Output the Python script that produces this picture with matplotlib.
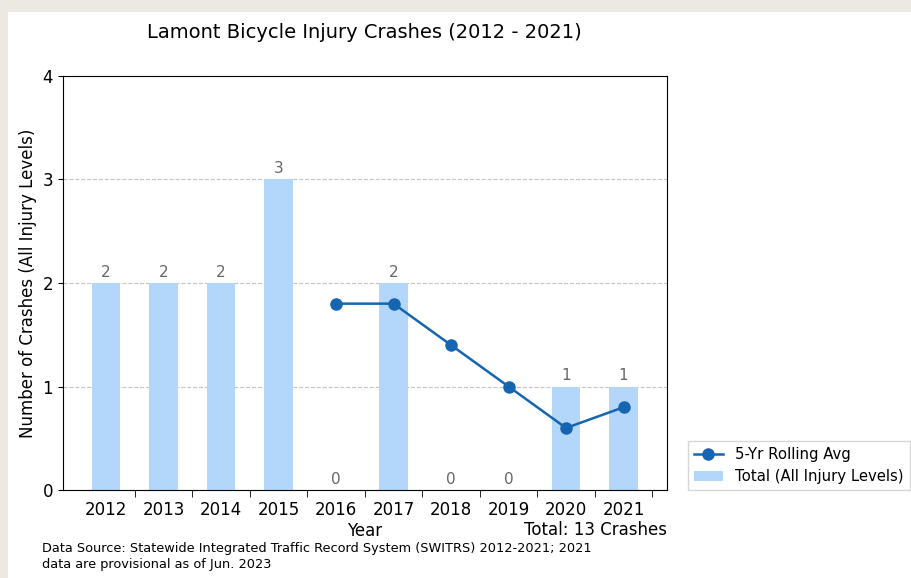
import matplotlib.pyplot as plt
from matplotlib.patches import Rectangle
import numpy as np

years = ['2012', '2013', '2014', '2015', '2016', '2017', '2018', '2019', '2020', '2021']
totals = [2, 2, 2, 3, 0, 2, 0, 0, 1, 1]
avg_years = ['2016', '2017', '2018', '2019', '2020', '2021']
rolling_avg = [1.8, 1.8, 1.4, 1.0, 0.6, 0.8]
total_crashes = 13

bar_color = '#b3d7fb'
line_color = '#1565b0'

fig = plt.figure(figsize=(9.12, 5.78), dpi=100, facecolor='#ece9e3')
fig.patches.append(Rectangle((0.009, 0.0), 0.991, 0.979, transform=fig.transFigure,
                             facecolor='white', edgecolor='none', zorder=-10))
ax = fig.add_axes([0.069, 0.152, 0.662, 0.717])

x = np.arange(len(years))
ax.bar(x, totals, width=0.5, color=bar_color, label='Total (All Injury Levels)', zorder=2)
ax_idx = [years.index(y) for y in avg_years]
ax.plot(ax_idx, rolling_avg, color=line_color, marker='o', markersize=8, linewidth=1.8,
        label='5-Yr Rolling Avg', zorder=3)

for xi, v in zip(x, totals):
    ax.text(xi, v + 0.03, str(v), ha='center', va='bottom', fontsize=11, color='#666666')

ax.set_xlim(-0.75, 9.75)
ax.set_ylim(0, 4)
ax.set_yticks([0, 1, 2, 3, 4])
ax.set_xticks(x)
ax.set_xticklabels(years)
ax.set_xticks(list(x + 0.5), minor=True)
ax.tick_params(axis='x', which='major', length=0, labelsize=12, pad=8)
ax.tick_params(axis='x', which='minor', length=5)
ax.tick_params(axis='y', labelsize=12)
ax.grid(axis='y', linestyle='--', color='#c4c4c4', linewidth=0.8, zorder=0)
ax.set_axisbelow(True)

ax.set_title('Lamont Bicycle Injury Crashes (2012 - 2021)', fontsize=14, pad=27)
ax.set_xlabel('Year', fontsize=12, labelpad=2)
ax.set_ylabel('Number of Crashes (All Injury Levels)', fontsize=12)
ax.text(1.0, -0.097, f'Total: {total_crashes} Crashes', transform=ax.transAxes,
        ha='right', va='center', fontsize=12)
fig.text(0.046, 0.063, 'Data Source: Statewide Integrated Traffic Record System (SWITRS) 2012-2021; 2021\n'
         'data are provisional as of Jun. 2023', ha='left', va='top', fontsize=9.3, linespacing=1.35)

ax.legend(loc='lower left', bbox_to_anchor=(0.754, 0.152), bbox_transform=fig.transFigure,
          borderaxespad=0, fontsize=10.7, frameon=True, fancybox=False, edgecolor='#cccccc')

fig.savefig('out.png', dpi=100, facecolor=fig.get_facecolor())
